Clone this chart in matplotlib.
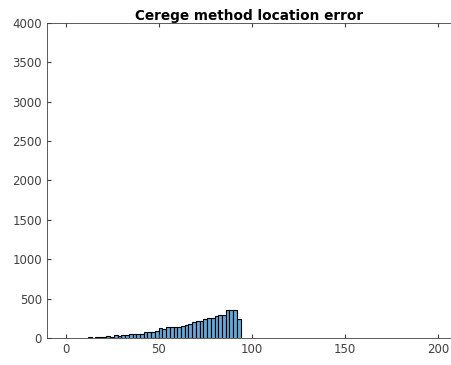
import numpy as np
import matplotlib
matplotlib.use("Agg")
import matplotlib.pyplot as plt

# histogram bins (left edges, width 2) and counts
bin_edges = np.arange(12, 96, 2)
counts = [13, 5, 8, 8, 10, 20, 12, 32, 28, 32, 36, 45, 55, 55, 55, 75, 80, 75, 90,
          125, 115, 140, 140, 140, 140, 150, 160, 180, 205, 220, 215, 240, 250, 260,
          285, 290, 295, 355, 355, 355, 245]

fig = plt.figure(figsize=(4.51, 3.65), dpi=100)
ax = fig.add_axes([0.104, 0.074, 0.896, 0.863])

ax.bar(bin_edges[:-1], counts, width=2, align="edge",
       color="#66a8d7", edgecolor="black", linewidth=0.8)

ax.set_xlim(-10, 207)
ax.set_ylim(0, 4000)
ax.set_xticks([0, 50, 100, 150, 200])
ax.set_yticks(np.arange(0, 4001, 500))
ax.tick_params(direction="in", top=True, right=False, labelsize=8.5,
               colors="#404040", length=3)
for s in ax.spines.values():
    s.set_color("#404040")
    s.set_linewidth(0.6)
ax.spines["right"].set_visible(False)
ax.set_title("Cerege method location error", fontsize=9.8, fontweight="bold", pad=2)

fig.savefig("out.png", dpi=100)
